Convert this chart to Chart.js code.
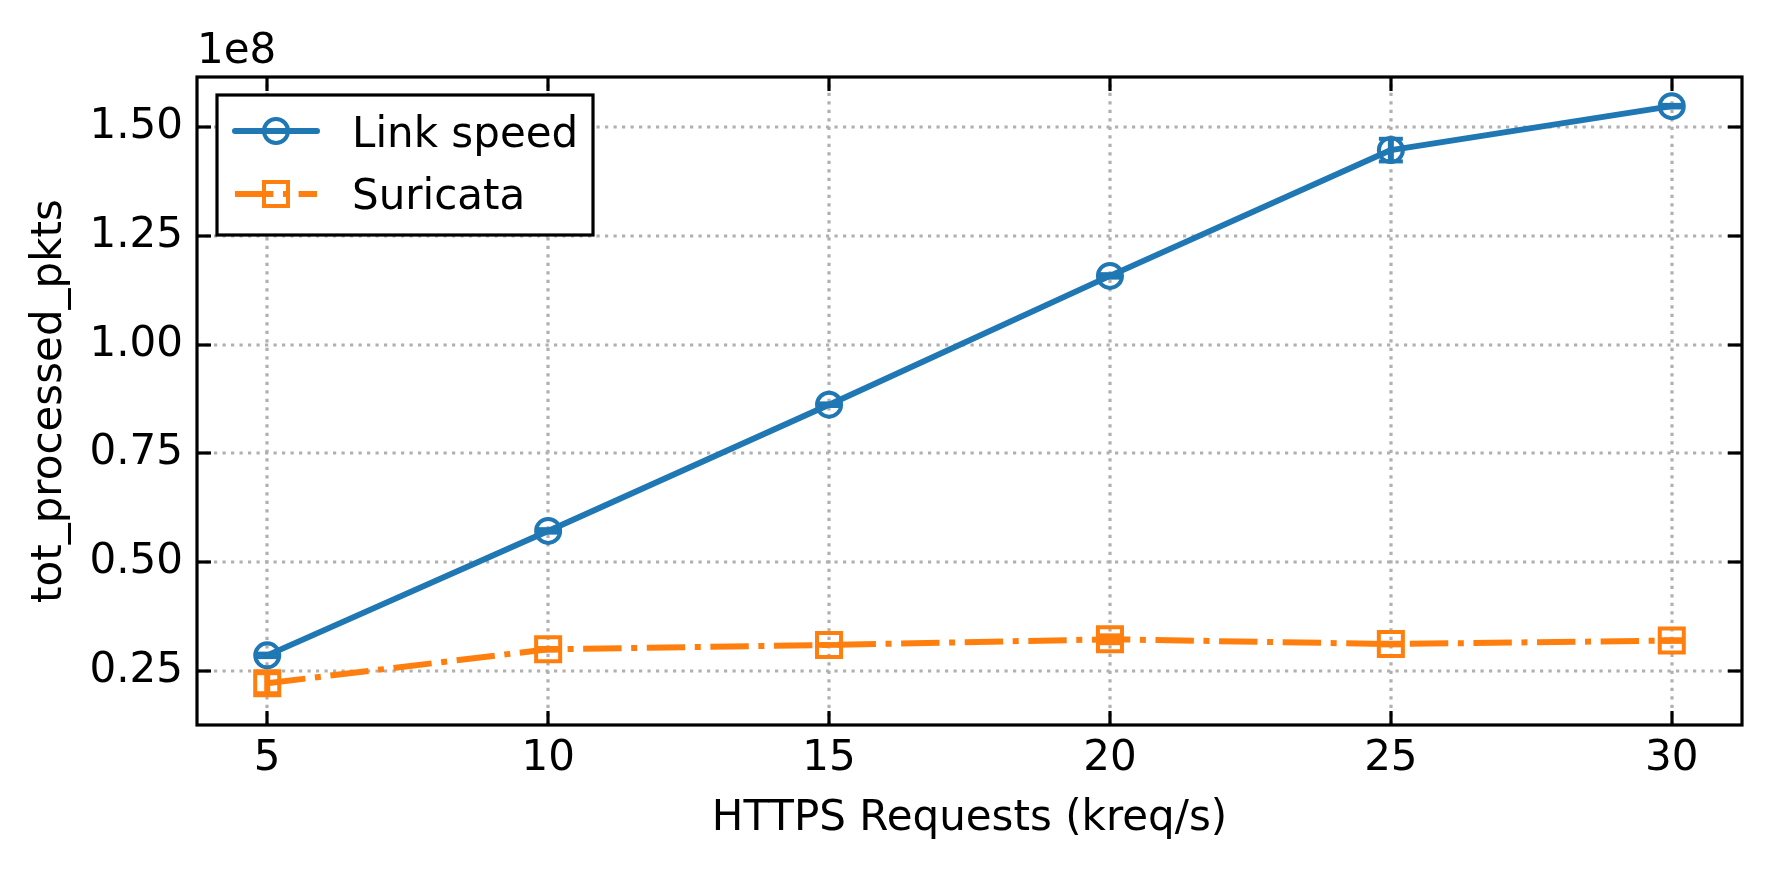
<!DOCTYPE html>
<html><head><meta charset="utf-8">
<script src="https://cdn.jsdelivr.net/npm/chart.js@4.4.1/dist/chart.umd.min.js"></script>
<style>html,body{margin:0;padding:0;background:#fff;} #wrap{width:1771px;height:870px;}</style>
</head><body><div id="wrap"><canvas id="c" width="1771" height="870"></canvas></div>
<script>
// ---- data ----
const xValues = [5, 10, 15, 20, 25, 30];
const linkSpeed = [0.286e8, 0.572e8, 0.862e8, 1.158e8, 1.447e8, 1.548e8];
const linkSpeedErr = [0.004e8, 0.004e8, 0.003e8, 0.004e8, 0.026e8, 0.003e8];
const suricata = [0.222e8, 0.300e8, 0.310e8, 0.323e8, 0.312e8, 0.320e8];
const suricataErr = [0.023e8, 0.003e8, 0.002e8, 0.009e8, 0.003e8, 0.003e8];
const xTicks = [5, 10, 15, 20, 25, 30];
const xTickLabels = ['5', '10', '15', '20', '25', '30'];
const yTicks = [0.25e8, 0.50e8, 0.75e8, 1.00e8, 1.25e8, 1.50e8];
const yTickLabels = ['0.25', '0.50', '0.75', '1.00', '1.25', '1.50'];
const seriesNames = ['Link speed', 'Suricata'];
const xLabel = 'HTTPS Requests (kreq/s)';
const yLabel = 'tot_processed_pkts';
const offsetLabel = '1e8';

// ---- style ----
const BLUE = '#1f77b4', ORANGE = '#ff7f0e';
const FAMILY = "'DejaVu Sans', sans-serif";
const FONT = {family: FAMILY, size: 42, lineHeight: 1.2};
const DASHDOT = [38.4, 9.6, 6, 9.6];

const framePlugin = {
  id: 'frame',
  beforeDatasetsDraw(chart) {
    const {ctx, chartArea: a, scales: {x, y}} = chart;
    ctx.save();
    ctx.strokeStyle = '#b0b0b0';
    ctx.lineWidth = 3.2;
    ctx.setLineDash([3.2, 5.3]);
    ctx.lineCap = 'butt';
    xTicks.forEach(v => {
      const px = Math.round(x.getPixelForValue(v));
      ctx.beginPath(); ctx.moveTo(px, a.bottom); ctx.lineTo(px, a.top); ctx.stroke();
    });
    yTicks.forEach(v => {
      const py = Math.round(y.getPixelForValue(v));
      ctx.beginPath(); ctx.moveTo(a.left, py); ctx.lineTo(a.right, py); ctx.stroke();
    });
    ctx.setLineDash([]);
    // error bars
    const drawErr = (vals, errs, color) => {
      ctx.strokeStyle = color;
      vals.forEach((v, i) => {
        const px = x.getPixelForValue(xValues[i]);
        const p1 = y.getPixelForValue(v - errs[i]);
        const p2 = y.getPixelForValue(v + errs[i]);
        ctx.lineWidth = 6;
        ctx.beginPath(); ctx.moveTo(px, p1); ctx.lineTo(px, p2); ctx.stroke();
        ctx.lineWidth = 4;
        [p1, p2].forEach(p => {
          ctx.beginPath(); ctx.moveTo(px - 12, p); ctx.lineTo(px + 12, p); ctx.stroke();
        });
      });
    };
    drawErr(linkSpeed, linkSpeedErr, BLUE);
    drawErr(suricata, suricataErr, ORANGE);
    ctx.restore();
  },
  afterDatasetsDraw(chart) {
    const {ctx, chartArea: a, scales: {x, y}} = chart;
    ctx.save();
    ctx.strokeStyle = '#000';
    ctx.lineWidth = 3.2;
    ctx.setLineDash([]);
    const TL = 14;
    xTicks.forEach(v => {
      const px = Math.round(x.getPixelForValue(v));
      ctx.beginPath(); ctx.moveTo(px, a.bottom); ctx.lineTo(px, a.bottom - TL); ctx.stroke();
      ctx.beginPath(); ctx.moveTo(px, a.top); ctx.lineTo(px, a.top + TL); ctx.stroke();
    });
    yTicks.forEach(v => {
      const py = Math.round(y.getPixelForValue(v));
      ctx.beginPath(); ctx.moveTo(a.left, py); ctx.lineTo(a.left + TL, py); ctx.stroke();
      ctx.beginPath(); ctx.moveTo(a.right, py); ctx.lineTo(a.right - TL, py); ctx.stroke();
    });
    ctx.strokeRect(a.left, a.top, a.right - a.left, a.bottom - a.top);

    // offset text
    ctx.fillStyle = '#000';
    ctx.font = `42px ${FAMILY}`;
    ctx.textAlign = 'left';
    ctx.textBaseline = 'alphabetic';
    ctx.fillText(offsetLabel, a.left, 63);

    // legend
    const lx = 217, ly = 95, lw = 376, lh = 140;
    ctx.fillStyle = '#fff';
    ctx.fillRect(lx, ly, lw, lh);
    ctx.lineWidth = 3.2;
    ctx.strokeStyle = '#000';
    ctx.strokeRect(lx, ly, lw, lh);

    const hx0 = 235, hx1 = 317, hc = 276;
    // entry 1
    let yy = 131;
    ctx.strokeStyle = BLUE; ctx.lineWidth = 6; ctx.lineCap = 'round';
    ctx.beginPath(); ctx.moveTo(hx0, yy); ctx.lineTo(hx1, yy); ctx.stroke();
    ctx.lineWidth = 4;
    ctx.beginPath(); ctx.arc(hc, yy, 12, 0, Math.PI * 2); ctx.stroke();
    ctx.fillStyle = '#000';
    ctx.fillText(seriesNames[0], 352, 146.5);
    // entry 2
    yy = 194;
    ctx.strokeStyle = ORANGE; ctx.lineWidth = 6; ctx.lineCap = 'butt';
    ctx.setLineDash(DASHDOT);
    ctx.beginPath(); ctx.moveTo(hx0, yy); ctx.lineTo(hx1, yy); ctx.stroke();
    ctx.setLineDash([]);
    ctx.lineWidth = 4;
    ctx.strokeRect(hc - 12, yy - 12, 24, 24);
    ctx.fillStyle = '#000';
    ctx.fillText(seriesNames[1], 352, 208.5);
    ctx.restore();
  }
};

new Chart(document.getElementById('c').getContext('2d'), {
  type: 'line',
  data: {
    datasets: [
      {
        label: seriesNames[0],
        data: xValues.map((v, i) => ({x: v, y: linkSpeed[i]})),
        borderColor: BLUE, borderWidth: 6, borderJoinStyle: 'round', borderCapStyle: 'round',
        pointStyle: 'circle', pointRadius: 12, pointBorderWidth: 4,
        pointBorderColor: BLUE, pointBackgroundColor: 'rgba(0,0,0,0)',
        pointHoverRadius: 12, fill: false, tension: 0
      },
      {
        label: seriesNames[1],
        data: xValues.map((v, i) => ({x: v, y: suricata[i]})),
        borderColor: ORANGE, borderWidth: 6, borderDash: DASHDOT, borderJoinStyle: 'round',
        pointStyle: 'rect', pointRadius: 17, pointBorderWidth: 4,
        pointBorderColor: ORANGE, pointBackgroundColor: 'rgba(0,0,0,0)',
        pointHoverRadius: 17, fill: false, tension: 0
      }
    ]
  },
  options: {
    responsive: false, animation: false, devicePixelRatio: 1,
    layout: {padding: {left: 0, right: 29, top: 77, bottom: 0}},
    plugins: {legend: {display: false}, tooltip: {enabled: false}},
    scales: {
      x: {
        type: 'linear', min: 3.75, max: 31.25,
        afterBuildTicks: s => { s.ticks = xTicks.map(v => ({value: v})); },
        afterFit: s => { s.height = 145; },
        grid: {display: false, drawTicks: false, tickLength: 0},
        border: {display: false},
        ticks: {font: FONT, color: '#000', padding: 9, maxRotation: 0, autoSkip: false,
          callback: (v) => xTickLabels[xTicks.indexOf(v)]},
        title: {display: true, text: xLabel, font: FONT, color: '#000', padding: {top: 0, bottom: 26}}
      },
      y: {
        type: 'linear', min: 0.126e8, max: 1.615e8,
        afterBuildTicks: s => { s.ticks = yTicks.map(v => ({value: v})); },
        afterFit: s => { s.width = 197; },
        grid: {display: false, drawTicks: false, tickLength: 0},
        border: {display: false},
        ticks: {font: FONT, color: '#000', padding: 14, autoSkip: false,
          callback: (v) => yTickLabels[yTicks.indexOf(v)]},
        title: {display: true, text: yLabel, font: FONT, color: '#000', padding: {top: 25, bottom: 0}}
      }
    }
  },
  plugins: [framePlugin]
});
</script>
</body></html>
